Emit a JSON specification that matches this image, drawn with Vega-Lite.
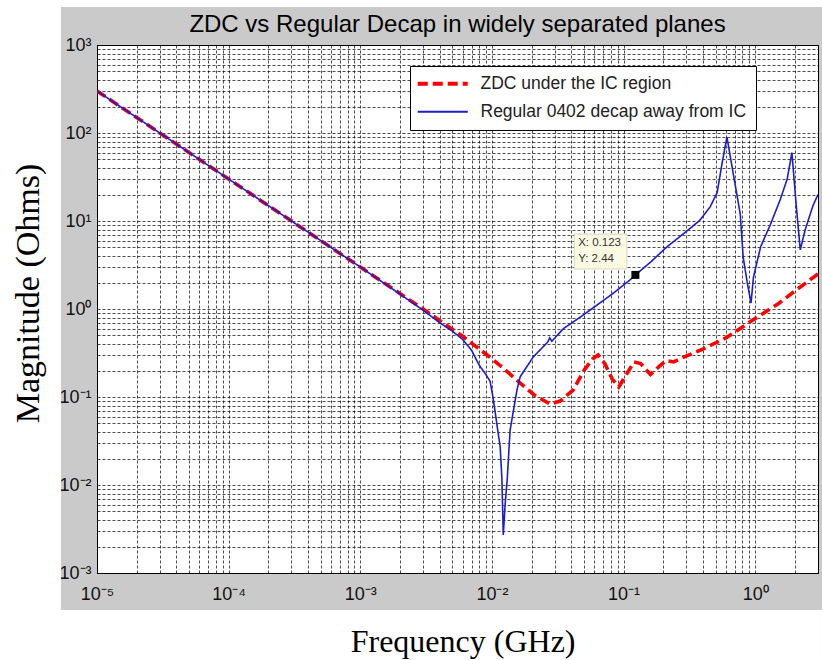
{
  "$schema": "https://vega.github.io/schema/vega-lite/v6.json",
  "width": 721,
  "height": 528,
  "autosize": {"type": "none"},
  "padding": {"left": 97, "top": 45, "right": 4, "bottom": 87},
  "background": "#cacaca",
  "title": {"text": "ZDC vs Regular Decap in widely separated planes", "font": "Liberation Sans", "fontSize": 24, "fontWeight": "normal", "color": "#000", "anchor": "middle", "frame": "group", "baseline": "alphabetic", "offset": 0, "dy": 56, "zindex": 2},
  "config": {
    "view": {"stroke": "#000", "strokeWidth": 1, "fill": "white"}
  },
  "datasets": {
    "curves": [
      {"f": 0.00001, "z": 300, "s": "ZDC under the IC region"},
      {"f": 0.0001, "z": 30, "s": "ZDC under the IC region"},
      {"f": 0.001, "z": 3, "s": "ZDC under the IC region"},
      {"f": 0.002, "z": 1.5, "s": "ZDC under the IC region"},
      {"f": 0.003, "z": 1.0, "s": "ZDC under the IC region"},
      {"f": 0.004, "z": 0.74, "s": "ZDC under the IC region"},
      {"f": 0.005, "z": 0.59, "s": "ZDC under the IC region"},
      {"f": 0.006, "z": 0.49, "s": "ZDC under the IC region"},
      {"f": 0.007, "z": 0.41, "s": "ZDC under the IC region"},
      {"f": 0.0092, "z": 0.30, "s": "ZDC under the IC region"},
      {"f": 0.0123, "z": 0.21, "s": "ZDC under the IC region"},
      {"f": 0.0164, "z": 0.144, "s": "ZDC under the IC region"},
      {"f": 0.021, "z": 0.105, "s": "ZDC under the IC region"},
      {"f": 0.0277, "z": 0.083, "s": "ZDC under the IC region"},
      {"f": 0.033, "z": 0.09, "s": "ZDC under the IC region"},
      {"f": 0.0414, "z": 0.12, "s": "ZDC under the IC region"},
      {"f": 0.05, "z": 0.2, "s": "ZDC under the IC region"},
      {"f": 0.058, "z": 0.27, "s": "ZDC under the IC region"},
      {"f": 0.064, "z": 0.3, "s": "ZDC under the IC region"},
      {"f": 0.072, "z": 0.24, "s": "ZDC under the IC region"},
      {"f": 0.082, "z": 0.16, "s": "ZDC under the IC region"},
      {"f": 0.092, "z": 0.13, "s": "ZDC under the IC region"},
      {"f": 0.105, "z": 0.18, "s": "ZDC under the IC region"},
      {"f": 0.12, "z": 0.25, "s": "ZDC under the IC region"},
      {"f": 0.135, "z": 0.24, "s": "ZDC under the IC region"},
      {"f": 0.16, "z": 0.18, "s": "ZDC under the IC region"},
      {"f": 0.185, "z": 0.22, "s": "ZDC under the IC region"},
      {"f": 0.21, "z": 0.26, "s": "ZDC under the IC region"},
      {"f": 0.24, "z": 0.25, "s": "ZDC under the IC region"},
      {"f": 0.28, "z": 0.28, "s": "ZDC under the IC region"},
      {"f": 0.4, "z": 0.35, "s": "ZDC under the IC region"},
      {"f": 0.6, "z": 0.47, "s": "ZDC under the IC region"},
      {"f": 1.0, "z": 0.78, "s": "ZDC under the IC region"},
      {"f": 1.5, "z": 1.15, "s": "ZDC under the IC region"},
      {"f": 2.0, "z": 1.6, "s": "ZDC under the IC region"},
      {"f": 3.0, "z": 2.5, "s": "ZDC under the IC region"},
      {"f": 0.00001, "z": 300, "s": "Regular 0402 decap away from IC"},
      {"f": 0.0001, "z": 30, "s": "Regular 0402 decap away from IC"},
      {"f": 0.001, "z": 3, "s": "Regular 0402 decap away from IC"},
      {"f": 0.002, "z": 1.48, "s": "Regular 0402 decap away from IC"},
      {"f": 0.003, "z": 0.97, "s": "Regular 0402 decap away from IC"},
      {"f": 0.004, "z": 0.7, "s": "Regular 0402 decap away from IC"},
      {"f": 0.005, "z": 0.56, "s": "Regular 0402 decap away from IC"},
      {"f": 0.006, "z": 0.45, "s": "Regular 0402 decap away from IC"},
      {"f": 0.007, "z": 0.34, "s": "Regular 0402 decap away from IC"},
      {"f": 0.008, "z": 0.23, "s": "Regular 0402 decap away from IC"},
      {"f": 0.009, "z": 0.18, "s": "Regular 0402 decap away from IC"},
      {"f": 0.0097, "z": 0.15, "s": "Regular 0402 decap away from IC"},
      {"f": 0.01026, "z": 0.093, "s": "Regular 0402 decap away from IC"},
      {"f": 0.011, "z": 0.045, "s": "Regular 0402 decap away from IC"},
      {"f": 0.01156, "z": 0.027, "s": "Regular 0402 decap away from IC"},
      {"f": 0.0119, "z": 0.012, "s": "Regular 0402 decap away from IC"},
      {"f": 0.0122, "z": 0.0027, "s": "Regular 0402 decap away from IC"},
      {"f": 0.0126, "z": 0.006, "s": "Regular 0402 decap away from IC"},
      {"f": 0.01306, "z": 0.0114, "s": "Regular 0402 decap away from IC"},
      {"f": 0.01374, "z": 0.042, "s": "Regular 0402 decap away from IC"},
      {"f": 0.0155, "z": 0.12, "s": "Regular 0402 decap away from IC"},
      {"f": 0.0164, "z": 0.17, "s": "Regular 0402 decap away from IC"},
      {"f": 0.0206, "z": 0.285, "s": "Regular 0402 decap away from IC"},
      {"f": 0.0265, "z": 0.42, "s": "Regular 0402 decap away from IC"},
      {"f": 0.0275, "z": 0.47, "s": "Regular 0402 decap away from IC"},
      {"f": 0.0285, "z": 0.43, "s": "Regular 0402 decap away from IC"},
      {"f": 0.035, "z": 0.6, "s": "Regular 0402 decap away from IC"},
      {"f": 0.047, "z": 0.81, "s": "Regular 0402 decap away from IC"},
      {"f": 0.065, "z": 1.15, "s": "Regular 0402 decap away from IC"},
      {"f": 0.083, "z": 1.5, "s": "Regular 0402 decap away from IC"},
      {"f": 0.112, "z": 2.14, "s": "Regular 0402 decap away from IC"},
      {"f": 0.123, "z": 2.44, "s": "Regular 0402 decap away from IC"},
      {"f": 0.16, "z": 3.4, "s": "Regular 0402 decap away from IC"},
      {"f": 0.214, "z": 5.1, "s": "Regular 0402 decap away from IC"},
      {"f": 0.3, "z": 7.6, "s": "Regular 0402 decap away from IC"},
      {"f": 0.38, "z": 10.2, "s": "Regular 0402 decap away from IC"},
      {"f": 0.455, "z": 14.5, "s": "Regular 0402 decap away from IC"},
      {"f": 0.514, "z": 21, "s": "Regular 0402 decap away from IC"},
      {"f": 0.56, "z": 45, "s": "Regular 0402 decap away from IC"},
      {"f": 0.61, "z": 90, "s": "Regular 0402 decap away from IC"},
      {"f": 0.68, "z": 35, "s": "Regular 0402 decap away from IC"},
      {"f": 0.77, "z": 12, "s": "Regular 0402 decap away from IC"},
      {"f": 0.81, "z": 3.9, "s": "Regular 0402 decap away from IC"},
      {"f": 0.87, "z": 2.0, "s": "Regular 0402 decap away from IC"},
      {"f": 0.93, "z": 1.17, "s": "Regular 0402 decap away from IC"},
      {"f": 0.97, "z": 2.3, "s": "Regular 0402 decap away from IC"},
      {"f": 1.1, "z": 5.1, "s": "Regular 0402 decap away from IC"},
      {"f": 1.3, "z": 9, "s": "Regular 0402 decap away from IC"},
      {"f": 1.55, "z": 17.5, "s": "Regular 0402 decap away from IC"},
      {"f": 1.75, "z": 30, "s": "Regular 0402 decap away from IC"},
      {"f": 1.9, "z": 60, "s": "Regular 0402 decap away from IC"},
      {"f": 2.05, "z": 15, "s": "Regular 0402 decap away from IC"},
      {"f": 2.2, "z": 4.7, "s": "Regular 0402 decap away from IC"},
      {"f": 2.4, "z": 8, "s": "Regular 0402 decap away from IC"},
      {"f": 2.75, "z": 15, "s": "Regular 0402 decap away from IC"},
      {"f": 3.0, "z": 20, "s": "Regular 0402 decap away from IC"}
    ]
  },
  "layer": [
    {
      "data": {"values": [{}]},
      "mark": {"type": "rect", "fill": "white", "strokeWidth": 0},
      "encoding": {
        "x": {"datum": 0.00000183, "type": "quantitative", "title": null, "scale": {"type": "log", "domain": [0.00001, 3], "nice": false}},
        "x2": {"datum": 0.00000532},
        "y": {"datum": 3245, "type": "quantitative", "title": null, "scale": {"type": "log", "domain": [0.001, 1000], "nice": false}},
        "y2": {"datum": 0.0001026}
      }
    },
    {
      "data": {"values": [{}]},
      "mark": {"type": "rect", "fill": "white", "strokeWidth": 0},
      "encoding": {
        "x": {"datum": 0.00000183, "type": "quantitative", "title": null, "scale": {"type": "log", "domain": [0.00001, 3], "nice": false}},
        "x2": {"datum": 3.214},
        "y": {"datum": 0.00038, "type": "quantitative", "title": null, "scale": {"type": "log", "domain": [0.001, 1000], "nice": false}},
        "y2": {"datum": 0.0001026}
      }
    },
    {
      "data": {"values": [{}]},
      "mark": {"type": "rect", "fill": "white", "strokeWidth": 0},
      "encoding": {
        "x": {"datum": 0.00000183, "type": "quantitative", "title": null, "scale": {"type": "log", "domain": [0.00001, 3], "nice": false}},
        "x2": {"datum": 3.214},
        "y": {"datum": 3245, "type": "quantitative", "title": null, "scale": {"type": "log", "domain": [0.001, 1000], "nice": false}},
        "y2": {"datum": 2704}
      }
    },
    {
      "data": {"values": [{}]},
      "mark": {"type": "rect", "fill": "#fbfbe4", "stroke": "#d6d6c0", "strokeWidth": 1},
      "encoding": {
        "x": {"datum": 0.0422, "type": "quantitative", "title": null, "scale": {"type": "log", "domain": [0.00001, 3], "nice": false}},
        "x2": {"datum": 0.106},
        "y": {"datum": 7.1, "type": "quantitative", "title": null, "scale": {"type": "log", "domain": [0.001, 1000], "nice": false}},
        "y2": {"datum": 2.85}
      }
    },
    {
      "data": {"name": "curves"},
      "transform": [{"filter": "datum.s === 'ZDC under the IC region'"}],
      "mark": {"type": "line", "strokeWidth": 3.6, "clip": true},
      "encoding": {
        "x": {"field": "f", "type": "quantitative", "title": null,
          "scale": {"type": "log", "domain": [0.00001, 3], "nice": false},
          "axis": {"grid": true, "gridColor": "#000", "gridDash": [3, 2], "gridOpacity": 0.7, "domainColor": "#000", "ticks": false,
            "values": [0.00001, 0.00002, 0.00003, 0.00004, 0.00005, 0.00006, 0.00007, 0.00008, 0.00009, 0.0001, 0.0002, 0.0003, 0.0004, 0.0005, 0.0006, 0.0007, 0.0008, 0.0009, 0.001, 0.002, 0.003, 0.004, 0.005, 0.006, 0.007, 0.008, 0.009, 0.01, 0.02, 0.03, 0.04, 0.05, 0.06, 0.07, 0.08, 0.09, 0.1, 0.2, 0.3, 0.4, 0.5, 0.6, 0.7, 0.8, 0.9, 1, 2, 3],
            "labelExpr": "abs(log(datum.value)/LN10 - round(log(datum.value)/LN10)) > 0.01 ? '' : ['10⁻⁵','10⁻⁴','10⁻³','10⁻²','10⁻¹','10⁰','10¹','10²','10³'][round(log(datum.value)/LN10)+5]",
            "labelFont": "Liberation Sans", "labelFontSize": 18, "labelColor": "#111", "labelOverlap": false, "labelFlush": false, "labelBound": false, "labelPadding": 12}
        },
        "y": {"field": "z", "type": "quantitative", "title": null,
          "scale": {"type": "log", "domain": [0.001, 1000], "nice": false},
          "axis": {"grid": true, "gridColor": "#000", "gridDash": [3, 2], "gridOpacity": 0.7, "domainColor": "#000", "ticks": false,
            "values": [0.001, 0.002, 0.003, 0.004, 0.005, 0.006, 0.007, 0.008, 0.009, 0.01, 0.02, 0.03, 0.04, 0.05, 0.06, 0.07, 0.08, 0.09, 0.1, 0.2, 0.3, 0.4, 0.5, 0.6, 0.7, 0.8, 0.9, 1, 2, 3, 4, 5, 6, 7, 8, 9, 10, 20, 30, 40, 50, 60, 70, 80, 90, 100, 200, 300, 400, 500, 600, 700, 800, 900, 1000],
            "labelExpr": "abs(log(datum.value)/LN10 - round(log(datum.value)/LN10)) > 0.01 ? '' : ['10⁻⁵','10⁻⁴','10⁻³','10⁻²','10⁻¹','10⁰','10¹','10²','10³'][round(log(datum.value)/LN10)+5]",
            "labelFont": "Liberation Sans", "labelFontSize": 18, "labelColor": "#111", "labelOverlap": false, "labelFlush": false, "labelBound": false, "labelPadding": 6, "labelBaseline": "middle"}
        },
        "color": {"field": "s", "type": "nominal",
          "scale": {"domain": ["ZDC under the IC region", "Regular 0402 decap away from IC"], "range": ["#ff0000", "#1c1cd0"]},
          "legend": {"title": null, "orient": "none", "legendX": 313, "legendY": 21, "fillColor": "white", "strokeColor": "#000", "padding": 9, "symbolType": "stroke", "symbolSize": 2500, "symbolOffset": 15, "labelFont": "Liberation Sans", "labelFontSize": 17.5, "labelColor": "#222", "labelOffset": 29, "rowPadding": 9, "labelLimit": 500, "zindex": 2,
            "encode": {"symbols": {"update": {"strokeWidth": {"signal": "datum.value === 'ZDC under the IC region' ? 4 : 1.8"}}}}}
        },
        "strokeDash": {"field": "s", "type": "nominal",
          "scale": {"domain": ["ZDC under the IC region", "Regular 0402 decap away from IC"], "range": [[10, 5], [1, 0]]},
          "legend": {"title": null, "orient": "none", "legendX": 313, "legendY": 21, "fillColor": "white", "strokeColor": "#000", "padding": 9, "symbolType": "stroke", "symbolSize": 2500, "symbolOffset": 15, "labelFont": "Liberation Sans", "labelFontSize": 17.5, "labelColor": "#222", "labelOffset": 29, "rowPadding": 9, "labelLimit": 500, "zindex": 2,
            "encode": {"symbols": {"update": {"strokeWidth": {"signal": "datum.value === 'ZDC under the IC region' ? 4 : 1.8"}}}}}
        }
      }
    },
    {
      "data": {"name": "curves"},
      "transform": [{"filter": "datum.s === 'Regular 0402 decap away from IC'"}],
      "mark": {"type": "line", "strokeWidth": 1.6, "clip": true},
      "encoding": {
        "x": {"field": "f", "type": "quantitative", "title": null, "scale": {"type": "log", "domain": [0.00001, 3], "nice": false}},
        "y": {"field": "z", "type": "quantitative", "title": null, "scale": {"type": "log", "domain": [0.001, 1000], "nice": false}},
        "color": {"field": "s", "type": "nominal", "scale": {"domain": ["ZDC under the IC region", "Regular 0402 decap away from IC"], "range": ["#ff0000", "#1c1cd0"]}},
        "strokeDash": {"field": "s", "type": "nominal", "scale": {"domain": ["ZDC under the IC region", "Regular 0402 decap away from IC"], "range": [[10, 5], [1, 0]]}}
      }
    },
    {
      "data": {"values": [{}]},
      "mark": {"type": "point", "shape": "square", "filled": true, "color": "#000", "size": 64, "opacity": 1},
      "encoding": {
        "x": {"datum": 0.123, "type": "quantitative", "title": null, "scale": {"type": "log", "domain": [0.00001, 3], "nice": false}},
        "y": {"datum": 2.44, "type": "quantitative", "title": null, "scale": {"type": "log", "domain": [0.001, 1000], "nice": false}}
      }
    },
    {
      "data": {"values": [{}]},
      "mark": {"type": "text", "align": "left", "baseline": "middle", "font": "Liberation Sans", "fontSize": 11.5, "color": "#333"},
      "encoding": {
        "x": {"datum": 0.0452, "type": "quantitative", "title": null, "scale": {"type": "log", "domain": [0.00001, 3], "nice": false}},
        "y": {"datum": 5.6, "type": "quantitative", "title": null, "scale": {"type": "log", "domain": [0.001, 1000], "nice": false}},
        "text": {"value": "X: 0.123"}
      }
    },
    {
      "data": {"values": [{}]},
      "mark": {"type": "text", "align": "left", "baseline": "middle", "font": "Liberation Sans", "fontSize": 11.5, "color": "#333"},
      "encoding": {
        "x": {"datum": 0.0452, "type": "quantitative", "title": null, "scale": {"type": "log", "domain": [0.00001, 3], "nice": false}},
        "y": {"datum": 3.7, "type": "quantitative", "title": null, "scale": {"type": "log", "domain": [0.001, 1000], "nice": false}},
        "text": {"value": "Y: 2.44"}
      }
    },
    {
      "data": {"values": [{}]},
      "mark": {"type": "text", "align": "center", "baseline": "alphabetic", "font": "Liberation Serif", "fontSize": 32, "color": "#000"},
      "encoding": {
        "x": {"datum": 0.00604, "type": "quantitative", "title": null, "scale": {"type": "log", "domain": [0.00001, 3], "nice": false}},
        "y": {"datum": 0.0001265, "type": "quantitative", "title": null, "scale": {"type": "log", "domain": [0.001, 1000], "nice": false}},
        "text": {"value": "Frequency (GHz)"}
      }
    },
    {
      "data": {"values": [{}]},
      "mark": {"type": "text", "align": "center", "baseline": "alphabetic", "angle": 270, "font": "Liberation Serif", "fontSize": 34, "color": "#000"},
      "encoding": {
        "x": {"datum": 0.000003624, "type": "quantitative", "title": null, "scale": {"type": "log", "domain": [0.00001, 3], "nice": false}},
        "y": {"datum": 1.5, "type": "quantitative", "title": null, "scale": {"type": "log", "domain": [0.001, 1000], "nice": false}},
        "text": {"value": "Magnitude (Ohms)"}
      }
    }
  ]
}
